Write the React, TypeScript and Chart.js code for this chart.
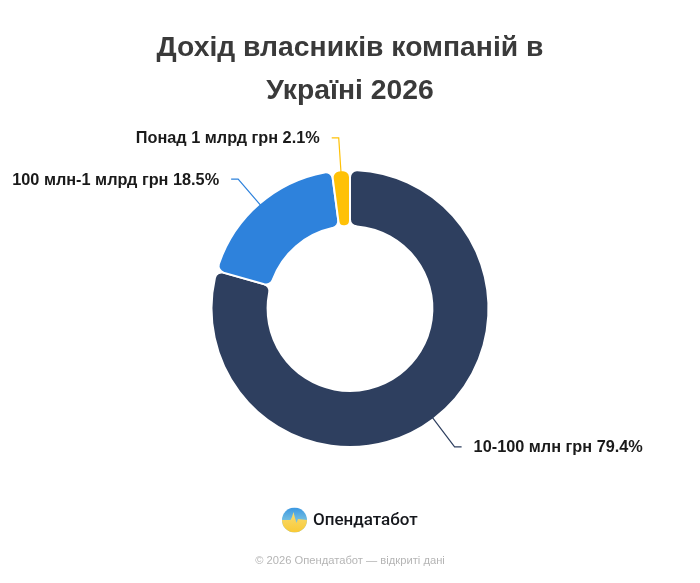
import { useEffect, useRef } from 'react';
import { Chart, registerables } from 'chart.js';

Chart.register(...registerables);

const categories = ['10-100 млн грн', '100 млн-1 млрд грн', 'Понад 1 млрд грн'];
const shares = [79.4, 18.5, 2.1];
const colors = ['#2e3f5f', '#2e82dc', '#ffc107'];
const titleLines = ['Дохід власників компаній в', 'Україні 2026'];
const brandName = 'Опендатабот';
const copyright = '© 2026 Опендатабот — відкриті дані';

const FONT = '"Liberation Sans", Arial, sans-serif';

// callout lines and labels, anchored on the arcs themselves
const calloutPlugin = {
  id: 'callouts',
  afterDatasetsDraw(chart: Chart) {
    const { ctx } = chart;
    chart.getDatasetMeta(0).data.forEach((arc: any, i: number) => {
      const mid = (arc.startAngle + arc.endAngle) / 2;
      const r = arc.outerRadius;
      const right = Math.cos(mid) >= 0;
      const reach = right ? r + 35 : r + 32.5;
      const x0 = arc.x + Math.cos(mid) * (r - 2);
      const y0 = arc.y + Math.sin(mid) * (r - 2);
      const x1 = arc.x + Math.cos(mid) * reach;
      const y1 = arc.y + Math.sin(mid) * reach;
      const x2 = x1 + (right ? 7 : -7);

      ctx.save();
      ctx.strokeStyle = colors[i];
      ctx.lineWidth = 1.2;
      ctx.beginPath();
      ctx.moveTo(x0, y0);
      ctx.lineTo(x1, y1);
      ctx.lineTo(x2, y1);
      ctx.stroke();

      ctx.font = `bold 16.3px ${FONT}`;
      ctx.fillStyle = '#1a1a1a';
      ctx.textBaseline = 'middle';
      ctx.textAlign = right ? 'left' : 'right';
      ctx.fillText(`${categories[i]} ${shares[i]}%`, x2 + (right ? 12 : -12), y1 + 1);
      ctx.restore();
    });
  },
};

// logo and copyright under the ring
const footerPlugin = {
  id: 'footer',
  afterDraw(chart: Chart) {
    const { ctx } = chart;
    const cx = 294.5;
    const cy = 520;
    const rad = 12.5;

    ctx.save();
    ctx.beginPath();
    ctx.arc(cx, cy, rad, 0, Math.PI * 2);
    ctx.clip();
    const sky = ctx.createLinearGradient(0, cy - rad, 0, cy + 2);
    sky.addColorStop(0, '#3a97e2');
    sky.addColorStop(1, '#7cc4e0');
    ctx.fillStyle = sky;
    ctx.fillRect(cx - rad, cy - rad, rad * 2, rad * 2);
    // yellow lower half, its top edge is the pulse line
    const sun = ctx.createLinearGradient(0, cy - 8, 0, cy + rad);
    sun.addColorStop(0, '#f8dc73');
    sun.addColorStop(1, '#f9c935');
    ctx.fillStyle = sun;
    ctx.beginPath();
    ctx.moveTo(cx - rad, cy);
    ctx.lineTo(cx - 4, cy);
    ctx.lineTo(cx - 2.5, cy - 3);
    ctx.lineTo(cx - 1, cy - 8);
    ctx.lineTo(cx + 0.5, cy - 2);
    ctx.lineTo(cx + 2, cy + 3);
    ctx.lineTo(cx + 3.5, cy - 1);
    ctx.lineTo(cx + rad, cy);
    ctx.lineTo(cx + rad, cy + rad);
    ctx.lineTo(cx - rad, cy + rad);
    ctx.closePath();
    ctx.fill();
    ctx.restore();

    ctx.save();
    ctx.textBaseline = 'middle';
    ctx.textAlign = 'left';
    ctx.fillStyle = '#15171c';
    ctx.font = '500 17px Roboto, sans-serif';
    ctx.fillText(brandName, 313, 521);
    ctx.textAlign = 'center';
    ctx.fillStyle = '#b5b5b5';
    ctx.font = `11.2px ${FONT}`;
    ctx.fillText(copyright, 350, 561);
    ctx.restore();
  },
};

export default function App() {
  const canvasRef = useRef<HTMLCanvasElement>(null);

  useEffect(() => {
    if (!canvasRef.current) return;
    const chart = new Chart(canvasRef.current, {
      type: 'doughnut',
      data: {
        labels: categories,
        datasets: [{
          data: shares,
          backgroundColor: colors,
          borderColor: '#ffffff',
          borderWidth: 2,
          borderRadius: 7,
        }],
      },
      options: {
        responsive: false,
        animation: false,
        cutout: '59.5%',
        layout: { padding: { bottom: 135 } },
        plugins: {
          legend: { display: false },
          tooltip: { enabled: false },
          title: {
            display: true,
            text: titleLines,
            color: '#3a3a3a',
            font: { family: FONT, size: 28.3, weight: 'bold', lineHeight: 1.52 },
            padding: { top: 27, bottom: 56 },
          },
        },
      },
      plugins: [calloutPlugin, footerPlugin],
    });
    return () => chart.destroy();
  }, []);

  return (
    <div style={{ position: 'absolute', left: 0, top: 0, width: 700, height: 583, background: '#ffffff' }}>
      <canvas ref={canvasRef} width={700} height={583} style={{ display: 'block' }} />
    </div>
  );
}
